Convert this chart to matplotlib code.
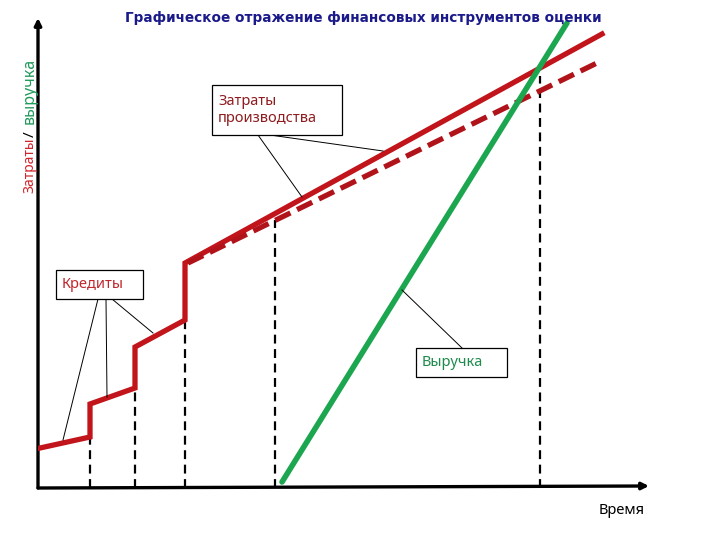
import matplotlib
matplotlib.use("Agg")
import matplotlib.pyplot as plt
from matplotlib.patches import Rectangle

plt.rcParams['font.family'] = ['Noto Sans', 'DejaVu Sans']

# schematic units: time from the origin to the right, cost/revenue up
cost_time = [2, 52, 52, 97, 97, 147, 147, 564]
cost_value = [40, 51, 84, 100, 141, 168, 225, 454]

planned_time = [150, 561]
planned_value = [225, 426]

revenue_time = [244, 529]
revenue_value = [6, 465]

marker_time = [52, 97, 147, 237, 502]
marker_value = [51, 100, 168, 268, 412]

title = "Графическое отражение финансовых инструментов оценки"

red = "#C1141B"
dark_red = "#B0141A"
green = "#1BA64F"
navy = "#1B1A8A"

fig = plt.figure(figsize=(7.2, 5.4), dpi=100)
ax = fig.add_axes([38 / 720, 52 / 540, 612 / 720, 470 / 540])
ax.set_xlim(0, 612)
ax.set_ylim(0, 470)
ax.axis("off")

# axes with arrows
ax.annotate("", xy=(0, 470), xytext=(0, 0), annotation_clip=False,
            arrowprops=dict(arrowstyle="-|>", lw=2.4, color="black",
                            mutation_scale=10, shrinkA=0, shrinkB=0))
ax.annotate("", xy=(611, 2), xytext=(0, 0), annotation_clip=False,
            arrowprops=dict(arrowstyle="-|>", lw=2.4, color="black",
                            mutation_scale=10, shrinkA=0, shrinkB=0))

# vertical dashed markers
for t, v in zip(marker_time, marker_value):
    ax.plot([t, t], [0, v], color="black", lw=1.6, ls=(0, (4, 2.5)), zorder=2)

# lines
ax.plot(cost_time, cost_value, color=red, lw=3.8, solid_joinstyle="miter", zorder=3)
ax.plot(planned_time, planned_value, color=dark_red, lw=3.8, ls=(0, (3.2, 1.4)), zorder=3)
ax.plot(revenue_time, revenue_value, color=green, lw=4, solid_capstyle="round", zorder=4)

# callouts
def callout(x0, y0, w, h, lines, color, ends, starts):
    ax.add_patch(Rectangle((x0, y0), w, h, fill=True, facecolor="white",
                           edgecolor="black", lw=0.9, zorder=5))
    ax.text(x0 + 6, y0 + h / 2, lines, color=color, fontsize=10.5,
            ha="left", va="center", linespacing=1.15, zorder=6)
    for (sx, sy), (ex, ey) in zip(starts, ends):
        ax.plot([sx, ex], [sy, ey], color="black", lw=0.7, zorder=4)

callout(174, 353, 130, 50, "Затраты\nпроизводства", "#8E1B1E",
        [(264, 291), (345, 337)], [(220, 353), (232, 353)])
callout(18, 189, 87, 29, "Кредиты", "#C0282D",
        [(25, 48), (69, 91), (115, 155)], [(60, 189), (68, 189), (74, 189)])
callout(378, 111, 91, 29, "Выручка", "#1E8A4C",
        [(364, 198)], [(424, 140)])

fig.text(363 / 720, 1 - 18 / 540, title, color=navy, fontsize=9.8,
         family=["DejaVu Sans"], fontweight="bold", ha="center", va="center")

fig.text(30 / 720, 1 - 193 / 540, "Затраты", color="#D0262C", fontsize=10,
         rotation=90, ha="center", va="bottom")
fig.text(30 / 720, 1 - 134 / 540, "/", color="black", fontsize=11,
         rotation=90, ha="center", va="center")
fig.text(30 / 720, 1 - 58 / 540, "выручка", color="#1E9A5A", fontsize=11.5,
         rotation=90, ha="center", va="top")

fig.text(622 / 720, 1 - 510 / 540, "Время", color="black", fontsize=10.5,
         ha="center", va="center")

fig.savefig("out.png", dpi=100)
